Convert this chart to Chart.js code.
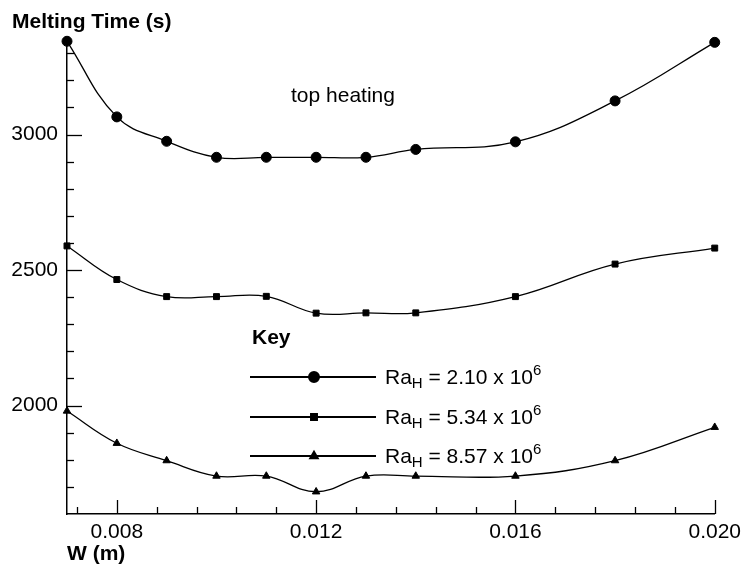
<!DOCTYPE html>
<html>
<head>
<meta charset="utf-8">
<title>Melting Time vs W</title>
<script src="https://cdn.jsdelivr.net/npm/chart.js@4.4.1/dist/chart.umd.min.js"></script>
<style>
    html, body { margin: 0; padding: 0; background: #ffffff; }
    #wrap { width: 747px; height: 572px; position: relative; }
</style>
</head>
<body>
<div id="wrap"><canvas id="meltChart"></canvas></div>
<script>
// =========================
// DATA
// =========================
const widthW = [0.007, 0.008, 0.009, 0.010, 0.011, 0.012, 0.013, 0.014, 0.016, 0.018, 0.020];

const timeRa210 = [3344, 3065, 2975, 2916, 2916, 2916, 2916, 2945, 2973, 3124, 3340];
const timeRa534 = [2589, 2465, 2402, 2402, 2403, 2341, 2342, 2342, 2402, 2522, 2581];
const timeRa857 = [1980, 1861, 1797, 1740, 1740, 1682, 1740, 1740, 1740, 1797, 1920];

const legendValues = ['2.10', '5.34', '8.57'];

// tick positions (minor + major) and the labelled ones
const xTickValues = [0.0072, 0.008, 0.0088, 0.0096, 0.0104, 0.0112, 0.012, 0.0128, 0.0136,
                     0.0144, 0.0152, 0.016, 0.0168, 0.0176, 0.0184, 0.0192, 0.020];
const xMajor = [0.008, 0.012, 0.016, 0.020];
const xMajorLabels = ['0.008', '0.012', '0.016', '0.020'];

const yTickValues = [1700, 1800, 1900, 2000, 2100, 2200, 2300, 2400, 2500, 2600,
                     2700, 2800, 2900, 3000, 3100, 3200, 3300];
const yMajor = [2000, 2500, 3000];
const yMajorLabels = ['2000', '2500', '3000'];

const FONT = '"Liberation Sans", Arial, Helvetica, sans-serif';
const FS = 21;

function majorIndex(list, v) {
    return list.findIndex(m => Math.abs(m - v) < 1e-9);
}

function toPoints(values) {
    return widthW.map((w, i) => ({ x: w, y: values[i] }));
}

// =========================
// PLUGINS
// =========================
// tecplot style ticks pointing into the plot
const inwardTicks = {
    id: 'inwardTicks',
    afterDatasetsDraw(chart) {
        const { ctx, chartArea } = chart;
        const xs = chart.scales.x, ys = chart.scales.y;
        ctx.save();
        ctx.strokeStyle = '#000';
        ctx.lineWidth = 1.3;
        xTickValues.forEach(v => {
            const px = Math.round(xs.getPixelForValue(v)) + 0.5;
            const len = majorIndex(xMajor, v) >= 0 ? 14 : 7;
            ctx.beginPath();
            ctx.moveTo(px, chartArea.bottom);
            ctx.lineTo(px, chartArea.bottom - len);
            ctx.stroke();
        });
        yTickValues.forEach(v => {
            const py = Math.round(ys.getPixelForValue(v)) + 0.5;
            const len = majorIndex(yMajor, v) >= 0 ? 15 : 7;
            ctx.beginPath();
            ctx.moveTo(chartArea.left, py);
            ctx.lineTo(chartArea.left + len, py);
            ctx.stroke();
        });
        ctx.restore();
    }
};

function drawRaLabel(ctx, x, y, value) {
    ctx.fillStyle = '#000';
    ctx.textAlign = 'left';
    ctx.textBaseline = 'alphabetic';
    const parts = [
        { t: 'Ra', size: FS, dy: 0 },
        { t: 'H', size: 15, dy: 4 },
        { t: ' = ' + value + ' x 10', size: FS, dy: 0 },
        { t: '6', size: 15, dy: -9 }
    ];
    parts.forEach(p => {
        ctx.font = p.size + 'px ' + FONT;
        ctx.fillText(p.t, x, y + p.dy);
        x += ctx.measureText(p.t).width;
    });
}

const annotations = {
    id: 'annotations',
    afterDraw(chart) {
        const ctx = chart.ctx;
        ctx.save();
        ctx.fillStyle = '#000';
        ctx.textAlign = 'left';
        ctx.textBaseline = 'alphabetic';

        ctx.font = 'bold ' + FS + 'px ' + FONT;
        ctx.fillText('Melting Time (s)', 12, 28);
        ctx.fillText('W (m)', 67, 560);

        ctx.font = FS + 'px ' + FONT;
        ctx.fillText('top heating', 291, 102);

        // key
        ctx.font = 'bold ' + FS + 'px ' + FONT;
        ctx.fillText('Key', 252, 344);

        const rowsY = [377, 417, 456];
        chart.data.datasets.forEach((ds, i) => {
            const y = rowsY[i];
            ctx.strokeStyle = '#000';
            ctx.lineWidth = 2;
            ctx.beginPath();
            ctx.moveTo(250, y);
            ctx.lineTo(376, y);
            ctx.stroke();
            ctx.fillStyle = '#000';
            Chart.helpers.drawPoint(ctx, {
                pointStyle: ds.pointStyle,
                radius: ds.pointRadius,
                borderWidth: 1,
                rotation: 0
            }, 314, y);
            ctx.fill();
            drawRaLabel(ctx, 385, y + 7, legendValues[i]);
        });
        ctx.restore();
    }
};

// =========================
// CHART
// =========================
function lineSet(label, values, style, radius) {
    return {
        label,
        data: toPoints(values),
        borderColor: '#000',
        borderWidth: 1.3,
        backgroundColor: '#000',
        pointStyle: style,
        pointRadius: radius,
        pointBackgroundColor: '#000',
        pointBorderColor: '#000',
        pointBorderWidth: 1,
        tension: 0.4,
        clip: false,
        fill: false
    };
}

function initChart() {
    const ctx = document.getElementById('meltChart').getContext('2d');

    new Chart(ctx, {
        type: 'line',
        data: {
            datasets: [
                lineSet('Ra_H = 2.10 x 10^6', timeRa210, 'circle', 5),
                lineSet('Ra_H = 5.34 x 10^6', timeRa534, 'rect', 4.2),
                lineSet('Ra_H = 8.57 x 10^6', timeRa857, 'triangle', 4.3)
            ]
        },
        options: {
            responsive: true,
            maintainAspectRatio: false,
            animation: false,
            devicePixelRatio: 1,
            layout: { padding: { top: 41, right: 30, bottom: 0, left: 0 } },
            plugins: {
                legend: { display: false },
                tooltip: { enabled: false },
                title: { display: false }
            },
            scales: {
                x: {
                    type: 'linear',
                    min: 0.007,
                    max: 0.020,
                    afterBuildTicks: s => { s.ticks = xTickValues.map(v => ({ value: v })); },
                    afterFit: s => { s.height = 58; },
                    ticks: {
                        autoSkip: false,
                        maxRotation: 0,
                        padding: 6,
                        color: '#000',
                        font: { family: FONT, size: FS },
                        callback: v => {
                            const k = majorIndex(xMajor, v);
                            return k >= 0 ? xMajorLabels[k] : '';
                        }
                    },
                    grid: { display: false, drawTicks: false },
                    border: { display: true, color: '#000', width: 1.5 }
                },
                y: {
                    type: 'linear',
                    min: 1600,
                    max: 3345,
                    afterBuildTicks: s => { s.ticks = yTickValues.map(v => ({ value: v })); },
                    afterFit: s => { s.width = 67; },
                    ticks: {
                        autoSkip: false,
                        padding: 9,
                        color: '#000',
                        font: { family: FONT, size: FS },
                        callback: v => {
                            const k = majorIndex(yMajor, v);
                            return k >= 0 ? yMajorLabels[k] : '';
                        }
                    },
                    grid: { display: false, drawTicks: false },
                    border: { display: true, color: '#000', width: 1.5 }
                }
            }
        },
        plugins: [inwardTicks, annotations]
    });
}

initChart();
</script>
</body>
</html>
